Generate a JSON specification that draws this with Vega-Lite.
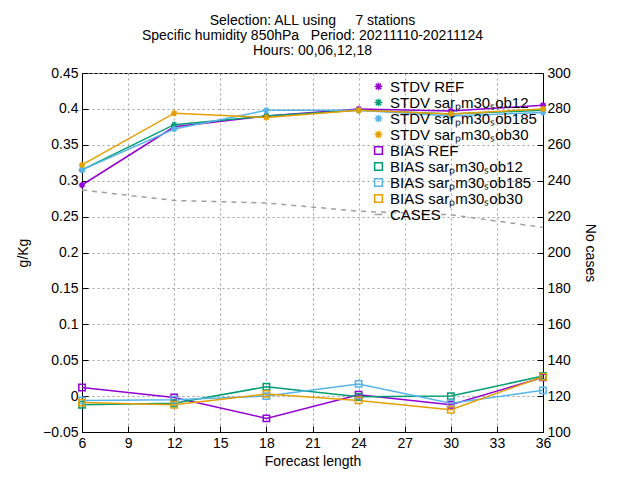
{
  "$schema": "https://vega.github.io/schema/vega-lite/v6.json",
  "autosize": "none",
  "width": 461,
  "height": 359,
  "padding": {"left": 82, "top": 73, "right": 97, "bottom": 48},
  "background": "white",
  "config": {
    "font": "Liberation Sans",
    "view": {"stroke": "black", "strokeWidth": 1},
    "axis": {"labelFontSize": 14, "titleFontSize": 14, "titleFontWeight": "normal", "labelColor": "black", "titleColor": "black", "tickColor": "black", "domainColor": "black", "gridColor": "#a0a0a0", "gridDash": [2, 3], "tickSize": -6, "labelPadding": 10, "labelOverlap": false}
  },
  "title": {"text": ["Selection: ALL using \u00a0\u00a0\u00a0\u00a07 stations", "Specific humidity 850hPa \u00a0\u00a0Period: 20211110-20211124", "Hours: 00,06,12,18"], "fontSize": 14, "fontWeight": "normal", "lineHeight": 15, "offset": 8, "anchor": "middle"},
  "datasets": {
    "stats": [
      {"series": "STDV REF", "h": 6, "v": 0.294}, {"series": "STDV REF", "h": 12, "v": 0.375}, {"series": "STDV REF", "h": 18, "v": 0.39}, {"series": "STDV REF", "h": 24, "v": 0.4}, {"series": "STDV REF", "h": 30, "v": 0.397}, {"series": "STDV REF", "h": 36, "v": 0.405},
      {"series": "STDV sarₚm30ₛob12", "h": 6, "v": 0.315}, {"series": "STDV sarₚm30ₛob12", "h": 12, "v": 0.378}, {"series": "STDV sarₚm30ₛob12", "h": 18, "v": 0.39}, {"series": "STDV sarₚm30ₛob12", "h": 24, "v": 0.398}, {"series": "STDV sarₚm30ₛob12", "h": 30, "v": 0.393}, {"series": "STDV sarₚm30ₛob12", "h": 36, "v": 0.398},
      {"series": "STDV sarₚm30ₛob185", "h": 6, "v": 0.315}, {"series": "STDV sarₚm30ₛob185", "h": 12, "v": 0.372}, {"series": "STDV sarₚm30ₛob185", "h": 18, "v": 0.398}, {"series": "STDV sarₚm30ₛob185", "h": 24, "v": 0.398}, {"series": "STDV sarₚm30ₛob185", "h": 30, "v": 0.39}, {"series": "STDV sarₚm30ₛob185", "h": 36, "v": 0.395},
      {"series": "STDV sarₚm30ₛob30", "h": 6, "v": 0.322}, {"series": "STDV sarₚm30ₛob30", "h": 12, "v": 0.394}, {"series": "STDV sarₚm30ₛob30", "h": 18, "v": 0.388}, {"series": "STDV sarₚm30ₛob30", "h": 24, "v": 0.398}, {"series": "STDV sarₚm30ₛob30", "h": 30, "v": 0.393}, {"series": "STDV sarₚm30ₛob30", "h": 36, "v": 0.4},
      {"series": "BIAS REF", "h": 6, "v": 0.012}, {"series": "BIAS REF", "h": 12, "v": -0.002}, {"series": "BIAS REF", "h": 18, "v": -0.031}, {"series": "BIAS REF", "h": 24, "v": 0.002}, {"series": "BIAS REF", "h": 30, "v": -0.012}, {"series": "BIAS REF", "h": 36, "v": 0.026},
      {"series": "BIAS sarₚm30ₛob12", "h": 6, "v": -0.012}, {"series": "BIAS sarₚm30ₛob12", "h": 12, "v": -0.01}, {"series": "BIAS sarₚm30ₛob12", "h": 18, "v": 0.013}, {"series": "BIAS sarₚm30ₛob12", "h": 24, "v": -0.001}, {"series": "BIAS sarₚm30ₛob12", "h": 30, "v": 0.0}, {"series": "BIAS sarₚm30ₛob12", "h": 36, "v": 0.028},
      {"series": "BIAS sarₚm30ₛob185", "h": 6, "v": -0.006}, {"series": "BIAS sarₚm30ₛob185", "h": 12, "v": -0.005}, {"series": "BIAS sarₚm30ₛob185", "h": 18, "v": 0.0}, {"series": "BIAS sarₚm30ₛob185", "h": 24, "v": 0.017}, {"series": "BIAS sarₚm30ₛob185", "h": 30, "v": -0.01}, {"series": "BIAS sarₚm30ₛob185", "h": 36, "v": 0.008},
      {"series": "BIAS sarₚm30ₛob30", "h": 6, "v": -0.009}, {"series": "BIAS sarₚm30ₛob30", "h": 12, "v": -0.012}, {"series": "BIAS sarₚm30ₛob30", "h": 18, "v": 0.003}, {"series": "BIAS sarₚm30ₛob30", "h": 24, "v": -0.006}, {"series": "BIAS sarₚm30ₛob30", "h": 30, "v": -0.019}, {"series": "BIAS sarₚm30ₛob30", "h": 36, "v": 0.027}
    ],
    "cases": [
      {"series": "CASES", "h": 6, "n": 234.8}, {"series": "CASES", "h": 12, "n": 229}, {"series": "CASES", "h": 18, "n": 227.6}, {"series": "CASES", "h": 24, "n": 223}, {"series": "CASES", "h": 30, "n": 221}, {"series": "CASES", "h": 36, "n": 214}
    ]
  },
  "layer": [
    {
      "data": {"name": "stats"},
      "mark": {"type": "line", "point": {"filled": false, "size": 40, "strokeWidth": 1.5}, "strokeWidth": 1.5},
      "encoding": {
        "x": {"field": "h", "type": "quantitative", "title": "Forecast length", "scale": {"domain": [6, 36], "nice": false}, "axis": {"values": [6, 9, 12, 15, 18, 21, 24, 27, 30, 33, 36], "labelFlush": false, "titlePadding": 4}},
        "y": {"field": "v", "type": "quantitative", "title": "g/Kg", "scale": {"domain": [-0.05, 0.45], "nice": false}, "axis": {"values": [-0.05, 0, 0.05, 0.1, 0.15, 0.2, 0.25, 0.3, 0.35, 0.4, 0.45], "labelExpr": "datum.value == 0 ? '0' : format(datum.value, '.2~f')", "titlePadding": 12}},
        "color": {"field": "series", "type": "nominal", "title": null, "scale": {"domain": ["STDV REF", "STDV sarₚm30ₛob12", "STDV sarₚm30ₛob185", "STDV sarₚm30ₛob30", "BIAS REF", "BIAS sarₚm30ₛob12", "BIAS sarₚm30ₛob185", "BIAS sarₚm30ₛob30", "CASES"], "range": ["#9400d3", "#009e73", "#56b4e9", "#e69f00", "#9400d3", "#009e73", "#56b4e9", "#e69f00", "#a0a0a0"]}, "legend": {"orient": "top-right", "labelFontSize": 15, "labelLimit": 300, "rowPadding": 0, "fillColor": null, "offset": 6, "symbolSize": 60}},
        "shape": {"field": "series", "type": "nominal", "scale": {"domain": ["STDV REF", "STDV sarₚm30ₛob12", "STDV sarₚm30ₛob185", "STDV sarₚm30ₛob30", "BIAS REF", "BIAS sarₚm30ₛob12", "BIAS sarₚm30ₛob185", "BIAS sarₚm30ₛob30", "CASES"], "range": ["M-1,0L1,0M0,-1L0,1M-0.7,-0.7L0.7,0.7M-0.7,0.7L0.7,-0.7", "M-1,0L1,0M0,-1L0,1M-0.7,-0.7L0.7,0.7M-0.7,0.7L0.7,-0.7", "M-1,0L1,0M0,-1L0,1M-0.7,-0.7L0.7,0.7M-0.7,0.7L0.7,-0.7", "M-1,0L1,0M0,-1L0,1M-0.7,-0.7L0.7,0.7M-0.7,0.7L0.7,-0.7", "square", "square", "square", "square", "stroke"]}, "legend": null}
      }
    },
    {
      "data": {"name": "cases"},
      "mark": {"type": "line", "strokeDash": [5, 5], "strokeWidth": 1.5},
      "encoding": {
        "x": {"field": "h", "type": "quantitative"},
        "y": {"field": "n", "type": "quantitative", "title": "No cases", "scale": {"domain": [100, 300], "nice": false}, "axis": {"orient": "right", "values": [100, 120, 140, 160, 180, 200, 220, 240, 260, 280, 300], "grid": false, "titlePadding": 12}},
        "color": {"field": "series", "type": "nominal"}
      }
    }
  ],
  "resolve": {"scale": {"y": "independent"}}
}
